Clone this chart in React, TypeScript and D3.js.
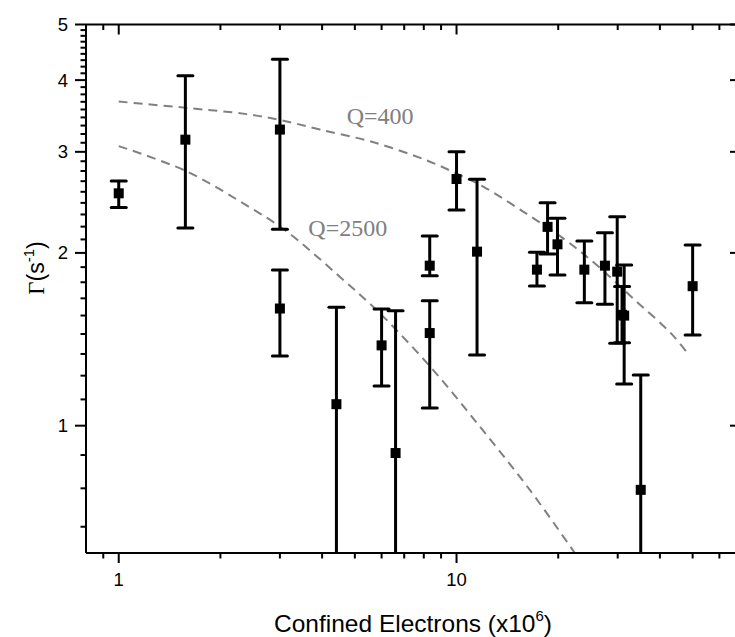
import React from "react";
import * as d3 from "d3";

// Data: confined electrons (x10^6) vs decay rate Γ (s^-1)
const electrons = [1.0, 1.575, 3.0, 3.0, 4.41, 6.0, 6.6, 8.33, 8.33, 10.0, 11.5, 17.3, 18.6, 19.9, 23.9, 27.5, 29.9, 30.9, 31.35, 35.1, 50.0];
const gamma = [2.54, 3.15, 3.28, 1.6, 1.09, 1.38, 0.896, 1.9, 1.45, 2.69, 2.01, 1.87, 2.22, 2.07, 1.87, 1.9, 1.855, 1.56, 1.555, 0.773, 1.75];
const gammaHigh = [2.67, 4.07, 4.35, 1.867, 1.608, 1.597, 1.585, 2.14, 1.651, 3.0, 2.687, 2.005, 2.446, 2.298, 2.098, 2.169, 2.312, 1.747, 1.905, 1.226, 2.065];
const gammaLow = [2.4, 2.21, 2.2, 1.323, 0.4, 1.173, 0.4, 1.825, 1.073, 2.376, 1.328, 1.751, 1.991, 1.83, 1.638, 1.627, 1.392, 1.394, 1.182, 0.4, 1.439];

// Model curves
const q400N = [1.0, 1.575, 2.39, 3.0, 3.94, 5.65, 8.15, 10.0, 11.99, 15.75, 20.7, 26.0, 33.3, 43.3, 48.5];
const q400G = [3.67, 3.58, 3.49, 3.41, 3.28, 3.12, 2.9, 2.75, 2.61, 2.36, 2.12, 1.905, 1.667, 1.445, 1.333];
const q2500N = [1.0, 1.575, 2.39, 3.14, 4.51, 5.93, 8.53, 11.99, 16.5, 22.4];
const q2500G = [3.07, 2.78, 2.42, 2.18, 1.818, 1.57, 1.25, 0.98, 0.772, 0.6];

const xMajorTicks = [1, 10];
const xMinorTicks = [0.9, 2, 3, 4, 5, 6, 7, 8, 9, 20, 30, 40, 50, 60];
const yMajorTicks = [1, 2, 3, 4, 5];

const W = 735, H = 637;
const L = 86, R = 742, T = 24.5, B = 553;

export default function App() {
  const x = d3.scaleLog().domain([0.8, 70]).range([L, R]);
  const y = d3.scaleLog().domain([0.6, 5]).range([B, T]);

  const yMinorTicks: number[] = [];
  for (let n = 0; n < 5; n++) {
    for (let k = 1; k <= 8; k++) {
      const v = n + k / 9;
      if (v >= 0.6 && v <= 5) yMinorTicks.push(v);
    }
  }

  const line = d3.line<[number, number]>().x(d => x(d[0])).y(d => y(d[1])).curve(d3.curveCatmullRom.alpha(0.5));
  const q400 = line(q400N.map((n, i) => [n, q400G[i]] as [number, number])) || "";
  const q2500 = line(q2500N.map((n, i) => [n, q2500G[i]] as [number, number])) || "";

  const sans = "'Liberation Sans', Arial, sans-serif";
  const serif = "'Liberation Serif', 'Times New Roman', serif";
  const sq = 10;
  const capW = 15;

  return (
    <svg width={W} height={H} style={{ position: "absolute", left: 0, top: 0, background: "#fff" }} xmlns="http://www.w3.org/2000/svg">
      <defs>
        <clipPath id="plotclip">
          <rect x={L} y={T} width={R - L} height={B - T} />
        </clipPath>
      </defs>
      <rect x={0} y={0} width={W} height={H} fill="#fff" />

      {/* model curves */}
      <g clipPath="url(#plotclip)" fill="none" stroke="#808080" strokeWidth={2} strokeDasharray="9,6">
        <path d={q400} />
        <path d={q2500} />
      </g>
      <text x={346.7} y={124} fontFamily={serif} fontSize={24} fill="#808080">Q=400</text>
      <text x={308.3} y={236} fontFamily={serif} fontSize={24} fill="#808080">Q=2500</text>

      {/* error bars */}
      <g clipPath="url(#plotclip)" stroke="#000" strokeWidth={3}>
        {electrons.map((n, i) => {
          const cx = x(n);
          return (
            <g key={i}>
              <line x1={cx} x2={cx} y1={y(gammaLow[i])} y2={y(gammaHigh[i])} />
              <line x1={cx - capW / 2} x2={cx + capW / 2} y1={y(gammaHigh[i])} y2={y(gammaHigh[i])} strokeLinecap="round" />
              <line x1={cx - capW / 2} x2={cx + capW / 2} y1={y(gammaLow[i])} y2={y(gammaLow[i])} strokeLinecap="round" />
              <rect x={cx - sq / 2} y={y(gamma[i]) - sq / 2} width={sq} height={sq} fill="#000" stroke="none" />
            </g>
          );
        })}
      </g>

      {/* axes frame */}
      <g stroke="#000" strokeWidth={2} fill="none">
        <line x1={L} x2={R} y1={B} y2={B} />
        <line x1={L} x2={R} y1={T} y2={T} />
        <line x1={L} x2={L} y1={T} y2={B} />
        <line x1={R} x2={R} y1={T} y2={B} />
        {xMajorTicks.map(t => <line key={"bM" + t} x1={x(t)} x2={x(t)} y1={B} y2={B + 10} />)}
        {xMinorTicks.map(t => <line key={"bm" + t} x1={x(t)} x2={x(t)} y1={B} y2={B + 5.5} />)}
        {xMajorTicks.map(t => <line key={"tM" + t} x1={x(t)} x2={x(t)} y1={T} y2={T + 10} />)}
        {xMinorTicks.map(t => <line key={"tm" + t} x1={x(t)} x2={x(t)} y1={T} y2={T + 5.5} />)}
        {yMajorTicks.map(t => <line key={"lM" + t} x1={L - 11} x2={L} y1={y(t)} y2={y(t)} />)}
        {yMinorTicks.map(t => <line key={"lm" + t} x1={L - 5.5} x2={L} y1={y(t)} y2={y(t)} />)}
        {yMajorTicks.map(t => <line key={"rM" + t} x1={R - 12} x2={R} y1={y(t)} y2={y(t)} />)}
      </g>

      {/* tick labels */}
      <g fontFamily={sans} fontSize={18.5} fill="#000">
        {xMajorTicks.map(t => (
          <text key={"xl" + t} x={x(t)} y={586} textAnchor="middle">{String(t)}</text>
        ))}
        {yMajorTicks.map(t => (
          <text key={"yl" + t} x={68} y={y(t) + 6.6} textAnchor="end">{String(t)}</text>
        ))}
      </g>

      {/* axis titles */}
      <text x={413} y={631.5} textAnchor="middle" fontFamily={sans} fontSize={24.5} fill="#000">
        Confined Electrons (x10<tspan dy={-11} fontSize={15}>6</tspan><tspan dy={11}>)</tspan>
      </text>
      <text transform="translate(44,268) rotate(-90)" textAnchor="middle" fontFamily={sans} fontSize={23} fill="#000">
        <tspan fontFamily={serif}>Γ</tspan>(s<tspan dy={-10} fontSize={15}>-1</tspan><tspan dy={10}>)</tspan>
      </text>
    </svg>
  );
}
